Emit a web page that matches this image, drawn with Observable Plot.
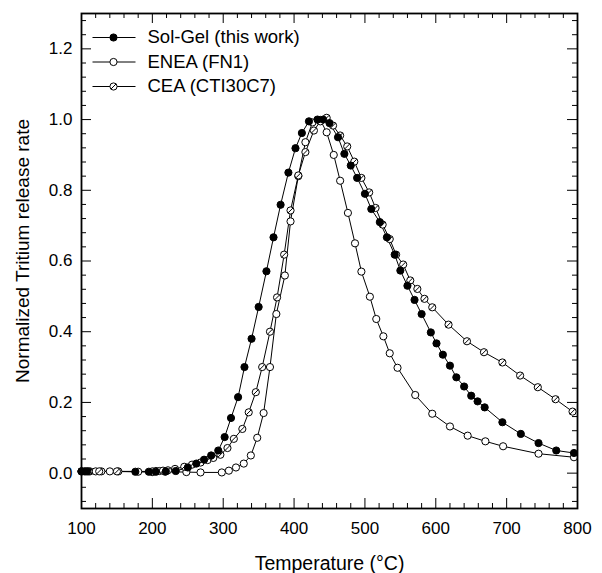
<!DOCTYPE html>
<html><head><meta charset="utf-8">
<script src="https://cdn.jsdelivr.net/npm/d3@7"></script>
<script src="https://cdn.jsdelivr.net/npm/@observablehq/plot@0.6"></script>
<style>body{margin:0;background:#fff}</style>
</head><body><div id="chart"></div>
<script>
const seriesNames = ["Sol-Gel (this work)", "ENEA (FN1)", "CEA (CTI30C7)"];
const solGelT = [100,104,108,176,195,205,219,233,250,262,273,283,293,302,311,321,330,340,350,361,371,381,392,402,411,421,433,441,450,462,471,480,489,500,509,521,531,542,550,560,570,580,593,601,610,620,629,640,650,659,669,694,720,745,770,795];
const solGelV = [0.005,0.005,0.005,0.004,0.004,0.004,0.005,0.006,0.016,0.027,0.038,0.05,0.064,0.102,0.156,0.215,0.30,0.38,0.47,0.571,0.667,0.759,0.85,0.919,0.962,0.995,1.0,1.0,0.99,0.95,0.903,0.87,0.835,0.79,0.747,0.71,0.667,0.618,0.573,0.53,0.49,0.45,0.398,0.367,0.335,0.304,0.271,0.245,0.219,0.203,0.186,0.144,0.111,0.085,0.064,0.057];
const eneaT = [100,106,112,120,128,140,152,180,200,218,248,268,298,308,318,329,339,348,357,366,375,387,395,406,416,426,437,446,456,465,476,486,495,507,516,526,535,546,571,595,620,645,670,695,745,795];
const eneaV = [0.005,0.005,0.005,0.005,0.005,0.005,0.005,0.004,0.003,0.004,0.003,0.002,0.002,0.007,0.016,0.027,0.05,0.10,0.17,0.30,0.45,0.559,0.712,0.84,0.936,0.992,0.999,0.964,0.90,0.827,0.736,0.65,0.57,0.499,0.436,0.387,0.339,0.298,0.221,0.168,0.132,0.106,0.09,0.076,0.055,0.045];
const ceaT = [100,110,125,150,200,205,210,215,222,232,245,256,268,278,286,296,306,315,327,336,346,355,366,376,386,395,406,416,428,437,446,455,465,475,485,495,506,515,525,535,544,554,564,574,584,595,618,644,668,694,719,744,769,793];
const ceaV = [0.005,0.005,0.005,0.005,0.005,0.006,0.006,0.007,0.008,0.012,0.018,0.024,0.03,0.037,0.043,0.052,0.071,0.097,0.125,0.172,0.229,0.30,0.40,0.497,0.618,0.743,0.842,0.908,0.969,0.995,1.005,0.983,0.955,0.924,0.881,0.835,0.794,0.75,0.703,0.662,0.618,0.59,0.545,0.521,0.493,0.469,0.42,0.373,0.342,0.313,0.276,0.243,0.209,0.174];
const xMajor = [100,200,300,400,500,600,700,800];
const yMajor = [0,0.2,0.4,0.6,0.8,1.0,1.2];

const xMinor = d3.range(120, 800, 20).filter(v => v % 100 !== 0);
const yMinor = d3.range(-0.08, 1.3, 0.04).map(v => +v.toFixed(2)).filter(v => Math.abs(v*5 - Math.round(v*5)) > 1e-6);

const toRows = (T, V, s) => T.map((t, i) => ({T: t, v: V[i], s}));
const solGel = toRows(solGelT, solGelV, seriesNames[0]);
const enea = toRows(eneaT, eneaV, seriesNames[1]);
const cea = toRows(ceaT, ceaV, seriesNames[2]);

const W = 602, H = 573, mL = 81, mR = 25, mT = 13, mB = 65;
const fw = W - mL - mR, fh = H - mT - mB;

const circleSym = {draw(ctx, size) { const r = Math.sqrt(size / Math.PI); ctx.moveTo(r, 0); ctx.arc(0, 0, r, 0, 2 * Math.PI); }};
const slashCircle = {draw(ctx, size) {
  const r = Math.sqrt(size / Math.PI);
  ctx.moveTo(r, 0); ctx.arc(0, 0, r, 0, 2 * Math.PI);
  const k = r * 0.7;
  ctx.moveTo(-k, k); ctx.lineTo(k, -k);
}};
const withLine = (inner) => ({draw(ctx, size) {
  const r = Math.sqrt(size / Math.PI);
  ctx.moveTo(-21, 0); ctx.lineTo(-r, 0);
  ctx.moveTo(r, 0); ctx.lineTo(22, 0);
  inner.draw(ctx, size);
}});
const R = 3.6;

const legendRows = [
  {name: seriesNames[0], fill: "black", sym: withLine(circleSym)},
  {name: seriesNames[1], fill: "white", sym: withLine(circleSym)},
  {name: seriesNames[2], fill: "white", sym: withLine(slashCircle)}
];
const legendMarks = legendRows.flatMap((row, i) => [
  Plot.dot([row], {frameAnchor: "top-left", dx: 32, dy: 24 + i * 24.5, r: R, symbol: row.sym, fill: row.fill, stroke: "black", strokeWidth: 1}),
  Plot.text([row], {frameAnchor: "top-left", dx: 66, dy: 24 + i * 24.5, text: "name", textAnchor: "start", lineAnchor: "middle", fontSize: 18.5})
]);

const tickMarks = (len, major) => {
  const xs = major ? xMajor : xMinor, ys = major ? yMajor : yMinor;
  return [
    Plot.tickX(xs, {x: d => d, insetTop: fh - len, stroke: "black", strokeWidth: 1}),
    Plot.tickX(xs, {x: d => d, insetBottom: fh - len, stroke: "black", strokeWidth: 1}),
    Plot.tickY(ys, {y: d => d, insetRight: fw - len, stroke: "black", strokeWidth: 1}),
    Plot.tickY(ys, {y: d => d, insetLeft: fw - len, stroke: "black", strokeWidth: 1})
  ];
};

const plot = Plot.plot({
  width: W, height: H,
  marginLeft: mL, marginRight: mR, marginTop: mT, marginBottom: mB,
  style: {fontFamily: "Arial, 'Liberation Sans', sans-serif", fontSize: "17px", color: "black", background: "white"},
  x: {domain: [100, 800]},
  y: {domain: [-0.1, 1.3]},
  marks: [
    Plot.axisX(xMajor, {tickSize: 0, tickPadding: 13, label: null, fontSize: 17}),
    Plot.axisY(yMajor, {tickSize: 0, tickPadding: 9, tickFormat: d3.format(".1f"), label: null, fontSize: 17}),
    ...tickMarks(10, true),
    ...tickMarks(5, false),
    Plot.line(solGel, {x: "T", y: "v", stroke: "black", strokeWidth: 1}),
    Plot.line(enea, {x: "T", y: "v", stroke: "black", strokeWidth: 1}),
    Plot.line(cea, {x: "T", y: "v", stroke: "black", strokeWidth: 1}),
    Plot.dot(enea, {x: "T", y: "v", r: R, fill: "white", stroke: "black", strokeWidth: 1}),
    Plot.dot(cea, {x: "T", y: "v", r: R, symbol: slashCircle, fill: "white", stroke: "black", strokeWidth: 1}),
    Plot.dot(solGel, {x: "T", y: "v", r: R, fill: "black", stroke: "black", strokeWidth: 1}),
    ...legendMarks,
    Plot.text(["Normalized Tritium release rate"], {frameAnchor: "left", dx: -59, dy: -10, rotate: -90, textAnchor: "middle", lineAnchor: "middle", fontSize: 19, text: d => d}),
    Plot.text(["Temperature (°C)"], {frameAnchor: "bottom", dy: 55, textAnchor: "middle", lineAnchor: "middle", fontSize: 19.5, text: d => d}),
    Plot.frame({stroke: "black", strokeWidth: 1.8})
  ]
});
document.getElementById("chart").append(plot);
</script>
</body></html>
